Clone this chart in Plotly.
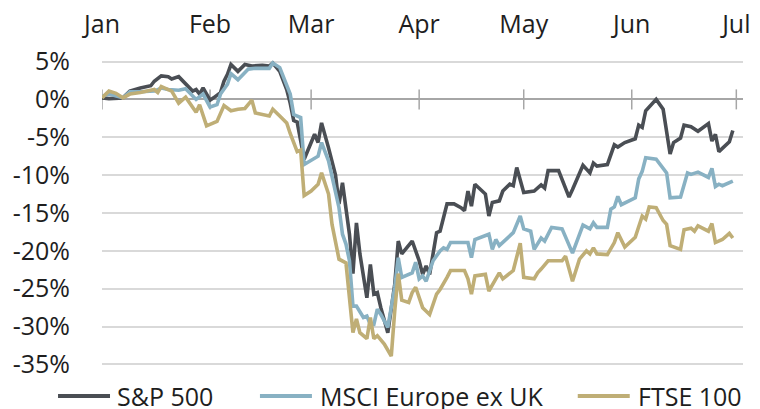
import pandas as pd
import plotly.graph_objects as go

# ---- data (day offsets from 1 Jan 2020, cumulative return in %) ----
series_names = ["S&P 500", "MSCI Europe ex UK", "FTSE 100"]
series_colors = ["#4a4e54", "#88b1c3", "#bfae76"]

sp500_days = [0, 2, 6, 8, 11, 14, 15, 17, 19, 20, 22, 24, 26, 27, 28, 29, 31, 32, 34, 35, 36, 37, 38, 39, 41, 43, 46, 48, 49, 51, 53, 54, 55, 56, 58, 61, 62, 63, 65, 67, 68, 69, 71, 72, 73, 74, 76, 77, 78, 79, 80, 82, 84, 85, 86, 89, 91, 92, 93, 94, 96, 97, 99, 101, 103, 104, 105, 106, 107, 110, 111, 112, 114, 115, 117, 118, 119, 121, 124, 126, 127, 128, 131, 134, 135, 138, 140, 141, 142, 145, 147, 148, 150, 153, 154, 155, 156, 159, 161, 163, 164, 166, 167, 169, 171, 174, 175, 176, 177, 180, 181]
sp500_values = [0.2, 0.1, 0.2, 1.1, 1.5, 1.8, 2.4, 3.1, 3.0, 2.7, 3.0, 2.0, 1.1, 1.3, 0.7, 1.5, -0.1, 0.2, 0.9, 2.4, 3.3, 4.6, 4.2, 3.7, 4.6, 4.4, 4.5, 4.4, 4.8, 3.7, 1.3, -0.5, -2.8, -3.0, -7.9, -4.6, -5.7, -3.1, -6.4, -10.0, -13.8, -11.0, -17.8, -23.0, -16.3, -20.4, -26.2, -21.8, -25.7, -25.5, -27.5, -30.8, -24.4, -18.7, -20.4, -18.7, -21.3, -23.1, -22.0, -23.1, -17.6, -17.4, -13.8, -13.8, -14.3, -14.7, -12.1, -14.1, -11.2, -12.5, -15.4, -13.6, -13.4, -12.1, -11.2, -11.4, -9.0, -12.3, -12.1, -11.3, -11.7, -9.4, -9.4, -12.9, -11.9, -8.7, -9.7, -8.4, -8.8, -8.6, -6.0, -6.3, -5.7, -5.2, -3.4, -3.7, -1.5, 0.0, -1.3, -7.2, -5.7, -5.1, -3.4, -3.6, -4.2, -3.2, -5.5, -4.6, -6.9, -5.6, -4.1]

msci_days = [0, 2, 6, 8, 11, 15, 17, 19, 22, 24, 27, 28, 29, 31, 33, 34, 36, 37, 39, 42, 44, 48, 49, 51, 54, 55, 57, 58, 60, 62, 63, 65, 68, 69, 70, 71, 72, 73, 75, 76, 77, 78, 79, 80, 82, 84, 85, 86, 89, 90, 91, 92, 93, 95, 97, 98, 99, 100, 105, 106, 107, 111, 112, 113, 114, 117, 118, 120, 121, 123, 124, 126, 127, 129, 132, 135, 138, 140, 141, 142, 145, 146, 147, 148, 149, 153, 154, 155, 156, 159, 161, 162, 163, 166, 168, 169, 171, 174, 175, 176, 177, 178, 181]
msci_values = [0.4, 0.7, 0.2, 1.0, 1.0, 1.1, 1.5, 1.3, 1.2, 1.4, 0.0, 0.4, 0.7, -1.0, -0.7, 0.7, 2.0, 3.4, 2.6, 4.0, 4.1, 4.1, 4.8, 4.2, 0.7, -2.0, -2.4, -8.6, -8.1, -7.5, -5.7, -8.1, -14.3, -17.8, -19.1, -21.3, -27.3, -27.3, -28.8, -28.6, -29.7, -29.7, -27.7, -28.4, -30.1, -24.8, -20.9, -23.5, -22.9, -21.5, -23.7, -23.3, -24.0, -21.3, -20.0, -19.6, -19.8, -18.9, -18.9, -20.9, -18.5, -17.8, -19.8, -18.5, -19.3, -18.0, -17.6, -15.4, -17.1, -17.4, -19.8, -18.3, -18.7, -16.9, -17.1, -20.3, -16.6, -17.1, -16.3, -16.9, -16.9, -14.5, -14.2, -12.8, -13.9, -13.0, -10.5, -9.5, -7.7, -7.9, -9.0, -9.7, -13.0, -12.9, -9.7, -9.9, -9.6, -10.3, -9.1, -11.5, -11.2, -11.4, -10.8]

ftse_days = [0, 2, 4, 6, 8, 11, 15, 16, 17, 18, 20, 22, 24, 27, 28, 30, 33, 35, 37, 39, 41, 43, 44, 48, 49, 51, 53, 54, 56, 57, 58, 60, 62, 63, 65, 66, 68, 70, 72, 73, 74, 76, 77, 78, 79, 81, 83, 84, 85, 86, 88, 89, 90, 92, 94, 96, 97, 99, 100, 104, 105, 106, 107, 110, 111, 113, 114, 115, 117, 118, 120, 121, 124, 125, 126, 128, 132, 133, 135, 137, 139, 140, 141, 142, 145, 147, 148, 150, 153, 154, 155, 156, 157, 159, 161, 162, 163, 166, 167, 169, 170, 171, 174, 175, 176, 178, 180, 181]
ftse_values = [0.2, 1.1, 0.8, 0.2, 0.7, 0.9, 1.3, 0.9, 1.7, 1.5, 1.1, -0.5, 0.3, -1.7, -0.7, -3.5, -2.9, -0.8, -1.5, -1.3, -1.2, -0.1, -1.8, -2.2, -1.3, -2.2, -3.1, -4.5, -6.9, -6.7, -12.7, -12.1, -11.2, -9.7, -12.5, -16.5, -21.1, -21.6, -30.8, -29.0, -30.8, -31.6, -28.8, -31.6, -31.2, -32.3, -33.9, -27.9, -23.0, -26.5, -26.8, -25.5, -24.8, -27.5, -28.4, -25.7, -25.1, -23.5, -22.6, -22.6, -23.7, -25.7, -23.3, -23.1, -25.3, -23.7, -22.9, -23.7, -22.9, -22.6, -19.0, -23.5, -23.7, -22.9, -22.4, -21.3, -21.3, -20.7, -24.0, -21.1, -20.0, -20.4, -19.6, -20.4, -20.5, -18.9, -17.6, -19.5, -18.2, -16.9, -15.4, -15.8, -14.2, -14.3, -16.0, -16.5, -19.3, -19.8, -17.2, -17.0, -17.4, -16.7, -17.4, -16.4, -18.9, -18.5, -17.7, -18.3]

month_ticks = ["2020-01-01", "2020-02-01", "2020-03-01", "2020-04-01", "2020-05-01", "2020-06-01", "2020-07-01"]
month_labels = ["Jan", "Feb", "Mar", "Apr", "May", "Jun", "Jul"]
y_ticks = [5, 0, -5, -10, -15, -20, -25, -30, -35]
y_labels = ["5%", "0%", "-5%", "-10%", "-15%", "-20%", "-25%", "-30%", "-35%"]

start = pd.Timestamp("2020-01-01")


def to_dates(days):
    return [start + pd.Timedelta(days=d) for d in days]


all_days = [sp500_days, msci_days, ftse_days]
all_values = [sp500_values, msci_values, ftse_values]

FONT = "Open Sans"
TEXT = "#1e1e1e"
FS = 25

fig = go.Figure()
for name, color, d, v in zip(series_names, series_colors, all_days, all_values):
    fig.add_trace(go.Scatter(x=to_dates(d), y=v, mode="lines", name=name,
                             line=dict(color=color, width=3.6), showlegend=False,
                             hoverinfo="skip"))

shapes = []
# month tick marks crossing the zero line
for t in month_ticks:
    shapes.append(dict(type="line", xref="x", yref="y", x0=t, x1=t,
                       ysizemode="pixel", yanchor=0, y0=-10, y1=10,
                       line=dict(color="#a6a6a6", width=1.5), layer="below"))

# manual legend
leg_y = -0.098
leg_items = [(-0.0686, 0.0125, 0.0203), (0.2464, 0.3275, 0.3368), (0.7422, 0.8233, 0.8327)]
annotations = []
for (x0, x1, xt), name, color in zip(leg_items, series_names, series_colors):
    shapes.append(dict(type="line", xref="paper", yref="paper", x0=x0, x1=x1,
                       y0=leg_y, y1=leg_y, line=dict(color=color, width=3.8)))
    annotations.append(dict(xref="paper", yref="paper", x=xt, y=leg_y, text=name,
                            showarrow=False, xanchor="left", yanchor="middle",
                            font=dict(family=FONT, size=FS, color=TEXT)))

fig.update_layout(
    width=760, height=409, autosize=False,
    margin=dict(l=102, r=16.7, t=59.5, b=43.2, autoexpand=False),
    paper_bgcolor="white", plot_bgcolor="white",
    font=dict(family=FONT, size=FS, color=TEXT),
    shapes=shapes, annotations=annotations,
    showlegend=False,
    xaxis=dict(type="date", range=["2020-01-01", "2020-07-02 22:00"],
               side="top", tickvals=month_ticks, ticktext=month_labels,
               showgrid=False, zeroline=False, showline=False, automargin=False,
               ticks="outside", ticklen=16, tickcolor="rgba(0,0,0,0)",
               tickfont=dict(family=FONT, size=FS, color=TEXT)),
    yaxis=dict(range=[-35.2, 5.2], tickvals=y_ticks, ticktext=y_labels,
               showgrid=True, gridcolor="#d9d9d9", gridwidth=1.5,
               zeroline=True, zerolinecolor="#a6a6a6", zerolinewidth=2,
               showline=False, ticks="outside", ticklen=26, automargin=False,
               tickcolor="rgba(0,0,0,0)",
               tickfont=dict(family=FONT, size=FS, color=TEXT)),
)

fig.write_html("out.html", config={"displayModeBar": False},
               post_script="document.body.style.margin='0px';")
